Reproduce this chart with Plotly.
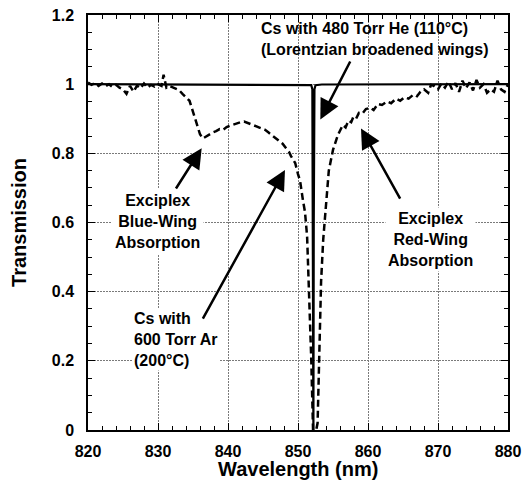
import plotly.graph_objects as go

# Cs with 600 Torr Ar (200°C) - dashed
ar_wl = [820.0, 820.5, 821.0, 821.5, 822.0, 822.5, 823.0, 823.5, 824.0, 824.5,
         825.0, 825.5, 826.0, 826.5, 827.0, 827.5, 828.0, 828.5, 829.0, 829.5,
         830.0, 830.5, 830.8, 831.2, 831.6, 832.0, 832.5, 833.0, 833.5, 834.0,
         834.5, 835.0, 835.5, 836.0, 836.4, 836.8, 837.3, 837.8, 838.3, 838.8,
         839.3, 839.8, 840.3, 840.8, 841.3, 841.8, 842.3, 842.8, 843.3, 843.8,
         844.3, 844.8, 845.3, 845.8, 846.3, 846.8, 847.3, 847.8, 848.3, 848.7,
         849.0, 849.3, 849.6, 850.0, 850.3, 850.7, 851.0, 851.3, 851.5, 851.6,
         851.75, 851.9, 852.05, 852.15, 852.3, 852.6, 852.8, 853.0, 853.3, 853.6,
         854.0, 854.4, 855.0, 855.7, 856.4, 856.8, 857.2, 857.6, 857.9, 858.3,
         858.7, 859.2, 859.7, 860.3, 860.8, 861.4, 862.0, 862.7, 863.3, 864.0,
         864.6, 865.2, 865.8, 866.5, 867.0, 867.5, 868.0, 868.6, 869.0, 869.4,
         870.0, 870.5, 871.0, 871.5, 872.0, 872.5, 873.0, 873.5, 874.0, 874.5,
         875.0, 875.5, 876.0, 876.5, 877.0, 877.5, 878.0, 878.5, 879.0, 879.5,
         880.0]
ar_tr = [1.005, 0.998, 1.003, 0.995, 1.002, 0.994, 1.000, 0.992, 0.998, 0.990,
         0.985, 0.972, 0.995, 0.978, 0.996, 0.988, 1.002, 0.990, 0.998, 0.993,
         1.000, 0.995, 1.027, 0.990, 0.995, 0.992, 0.988, 0.983, 0.972, 0.962,
         0.952, 0.920, 0.885, 0.855, 0.843, 0.848, 0.853, 0.860, 0.864, 0.870,
         0.868, 0.876, 0.880, 0.884, 0.886, 0.890, 0.892, 0.888, 0.884, 0.880,
         0.878, 0.874, 0.868, 0.860, 0.852, 0.842, 0.835, 0.828, 0.815, 0.805,
         0.792, 0.780, 0.772, 0.740, 0.720, 0.665, 0.630, 0.560, 0.450, 0.370,
         0.280, 0.200, 0.080, 0.000, 0.000, 0.000, 0.020, 0.200, 0.430, 0.550,
         0.665, 0.750, 0.810, 0.853, 0.882, 0.875, 0.895, 0.890, 0.905, 0.900,
         0.917, 0.915, 0.928, 0.932, 0.925, 0.943, 0.940, 0.950, 0.945, 0.958,
         0.952, 0.962, 0.958, 0.970, 0.965, 0.978, 0.985, 0.975, 0.998, 0.995,
         0.985, 1.002, 0.990, 1.008, 0.985, 1.003, 0.978, 1.010, 0.988, 1.005,
         0.982, 1.012, 0.990, 1.000, 0.975, 0.985, 0.978, 1.010, 0.985, 0.978,
         1.000]

# Cs with 480 Torr He (110°C) - solid
he_wl = [820.0, 851.0, 851.9, 852.05, 852.15, 852.2, 852.25, 852.35, 852.5, 853.4, 880.0]
he_tr = [1.0, 0.999, 0.997, 0.985, 0.6, 0.0, 0.6, 0.985, 0.997, 0.999, 1.0]

x_ticks = [820, 830, 840, 850, 860, 870, 880]
y_ticks = [0, 0.2, 0.4, 0.6, 0.8, 1, 1.2]

FONT = "Liberation Sans, Arial, sans-serif"

fig = go.Figure()
fig.add_trace(go.Scatter(x=ar_wl, y=ar_tr, mode="lines",
                         line=dict(color="black", width=2.5, dash="7px,4px"),
                         showlegend=False))
fig.add_trace(go.Scatter(x=he_wl, y=he_tr, mode="lines",
                         line=dict(color="black", width=2.2),
                         showlegend=False))

axis_common = dict(
    showline=True, linecolor="black", linewidth=1.5, mirror="ticks",
    ticks="inside", ticklen=7, tickwidth=1.2, tickcolor="black",
    showgrid=True, gridcolor="#7a7a7a", griddash="2px,1px", gridwidth=1,
    zeroline=False, automargin=False, ticklabeloverflow="allow",
    tickfont=dict(family=FONT, size=16, color="black", weight="bold"),
)

fig.update_xaxes(range=[820, 880], tickvals=x_ticks,
                 minor=dict(dtick=2, ticks="inside", ticklen=4, tickcolor="black", showgrid=False),
                 ticklabelstandoff=6,
                 **axis_common)
fig.update_yaxes(range=[0, 1.2], tickvals=y_ticks,
                 minor=dict(dtick=0.05, ticks="inside", ticklen=4, tickcolor="black", showgrid=False),
                 ticklabelstandoff=9,
                 title=dict(text="Transmission", standoff=20,
                            font=dict(family=FONT, size=20, color="black", weight="bold")),
                 **axis_common)

lbl_font = dict(family=FONT, size=16, color="black", weight="bold")

annotations = [
    # x-axis title
    dict(x=0.5, y=-0.094, xref="paper", yref="paper", showarrow=False,
         xanchor="center", yanchor="middle", text="Wavelength (nm)",
         font=dict(family=FONT, size=20, color="black", weight="bold")),
    # labels
    dict(x=844.43, y=1.131, xref="x", yref="y", showarrow=False, xanchor="left",
         align="left", text="Cs with 480 Torr He (110°C)<br>(Lorentzian broadened wings)",
         font=lbl_font),
    dict(x=829.86, y=0.6015, xref="x", yref="y", showarrow=False, align="center",
         text="Exciplex<br>Blue-Wing<br>Absorption", font=lbl_font,
         bgcolor="white", borderpad=3),
    dict(x=868.86, y=0.552, xref="x", yref="y", showarrow=False, align="center",
         text="Exciplex<br>Red-Wing<br>Absorption", font=lbl_font,
         bgcolor="white", borderpad=2),
    dict(x=826.29, y=0.263, xref="x", yref="y", showarrow=False, xanchor="left",
         align="left", text="Cs with<br>600 Torr Ar<br>(200°C)", font=lbl_font,
         bgcolor="white", borderpad=1),
]
arrows = [
    (853.19, 0.898, 857.57, 1.070),
    (836.24, 0.815, 832.43, 0.694),
    (859.00, 0.872, 864.71, 0.665),
    (848.14, 0.752, 836.29, 0.318),
]
for hx, hy, tx, ty in arrows:
    annotations.append(dict(x=hx, y=hy, ax=tx, ay=ty, xref="x", yref="y",
                            axref="x", ayref="y", text="", showarrow=True,
                            arrowhead=2, arrowsize=1.6, arrowwidth=2.5,
                            arrowcolor="black", standoff=0))

fig.update_layout(
    width=522, height=480,
    margin=dict(l=88, r=14, t=15, b=50),
    plot_bgcolor="white", paper_bgcolor="white",
    annotations=annotations,
)

# remove the browser's default body margin so the figure fills the window exactly
fig.write_html("out.html",
               config={"displayModeBar": False},
               post_script="document.body.style.margin='0';document.body.style.overflow='hidden';")
